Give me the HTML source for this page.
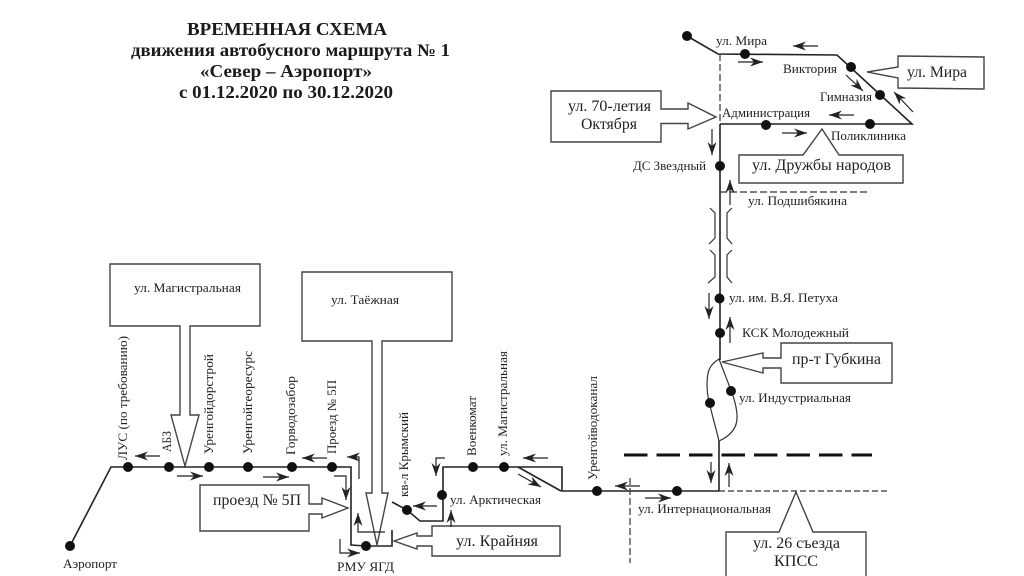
<!DOCTYPE html>
<html lang="ru">
<head>
<meta charset="utf-8">
<title>Временная схема движения автобусного маршрута № 1</title>
<style>
html,body{margin:0;padding:0;background:#fff;width:1024px;height:576px;overflow:hidden}
svg{display:block;filter:blur(.35px)}
text{font-family:"Liberation Serif","Noto Serif CJK SC",serif;fill:#222;font-size:12.500px}
.t{font-weight:bold;font-size:17.500px;fill:#1a1a1a}
.b{font-size:16px}
.l{fill:none;stroke:#222;stroke-width:1.6}
.s{fill:none;stroke:#333;stroke-width:1.2}
.a{fill:none;stroke:#222;stroke-width:1.2;marker-end:url(#h)}
.f{fill:#fff;stroke:#444;stroke-width:1.4}
</style>
</head>
<body>
<svg width="1024" height="576" viewBox="0 0 1024 576" xmlns="http://www.w3.org/2000/svg">
<defs>
<marker id="h" markerUnits="userSpaceOnUse" markerWidth="14" markerHeight="10" refX="13" refY="5" orient="auto">
<path d="M0,0.5 L13,5 L0,9.500 L4,5 z" fill="#222"/>
</marker>
</defs>

<!-- Title -->
<text class="t" x="187" y="35" textLength="200" lengthAdjust="spacingAndGlyphs">ВРЕМЕННАЯ СХЕМА</text>
<text class="t" x="131" y="56" textLength="319" lengthAdjust="spacingAndGlyphs">движения автобусного маршрута № 1</text>
<text class="t" x="200" y="77" textLength="172" lengthAdjust="spacingAndGlyphs">«Север – Аэропорт»</text>
<text class="t" x="179" y="98" textLength="214" lengthAdjust="spacingAndGlyphs">с 01.12.2020 по 30.12.2020</text>

<!-- Upper route -->
<polyline class="l" points="687,36 718,54 837,55 912,124 720,124"/>
<line class="s" x1="720" y1="54" x2="720" y2="124" stroke-dasharray="7 3"/>
<line class="l" x1="720" y1="124" x2="720" y2="360"/>
<line class="s" x1="720" y1="192" x2="868" y2="192" stroke-dasharray="7 3"/>

<!-- Road break marks -->
<polyline class="s" points="710,208 715,213 715,238 709,244"/>
<polyline class="s" points="710,250 715,255 715,277 708,283"/>
<polyline class="s" points="732,208 727,213 727,238 732,244"/>
<polyline class="s" points="732,250 727,255 727,277 732,283"/>

<!-- Loop -->
<path class="s" d="M719,359 C709,365 707,372 707,385 C707,398 710,405 719,441 C730,436 738,428 737,415 C736,400 731,391 719,359 Z"/>
<line class="l" x1="719" y1="441" x2="719" y2="491"/>

<!-- Thick dashed line -->
<line x1="624" y1="455" x2="872" y2="455" stroke="#111" stroke-width="3" stroke-dasharray="23.5 9"/>

<!-- Lower right -->
<polyline class="l" points="719,491 562,491 562,467 443,467 443,521 420,521 407,510 392,502"/>
<line class="s" x1="719" y1="491" x2="890" y2="491" stroke-dasharray="6 3"/>
<line class="s" x1="630" y1="478" x2="630" y2="563" stroke-dasharray="7 3"/>
<line class="l" x1="518" y1="467" x2="561" y2="491"/>

<!-- Left route -->
<polyline class="l" points="70,546 111,467 351,467 351,545 366,546 392,546 392,530"/>

<!-- Boxes and block arrows -->
<path class="f" d="M110,264 H260 V326 H190 V415 H199 L185,466 L171,415 H180 V326 H110 Z"/>
<path class="f" d="M302,272 H452 V341 H382 V493 H388 L377,545 L366,493 H372 V341 H302 Z"/>
<path class="f" d="M200,485 H309 V504 H322 V498 L348,508 L322,518 V514 H309 V531 H200 Z"/>
<path class="f" d="M432,526 H560 V556 H432 V546 H417 V549 L394,541 L417,533 V536 H432 Z"/>
<path class="f" d="M551,91 H661 V109 H688 V103 L716,117 L688,129 V123.500 H661 V142 H551 Z"/>
<path class="f" d="M898,56 L984,57 V89 L898,88 V78 L867,72 L898,67 Z"/>
<path class="f" d="M739,155 H803 L822,129 L839,155 H903 V183 H739 Z"/>
<path class="f" d="M781,343 H892 V383 H781 V368 H763 V373 L722,362 L763,353 V358 H781 Z" stroke-width="1.8"/>
<path class="f" d="M726,578 V532 H779 L796,492 L813,532 H866 V578"/>

<!-- Stops -->
<g fill="#111">
<circle cx="687" cy="36" r="5"/>
<circle cx="745" cy="54" r="5"/>
<circle cx="851" cy="67" r="5"/>
<circle cx="880" cy="95" r="5"/>
<circle cx="766" cy="125" r="5"/>
<circle cx="870" cy="124" r="5"/>
<circle cx="720" cy="166" r="5"/>
<circle cx="719.500" cy="298.500" r="5"/>
<circle cx="720" cy="333" r="5"/>
<circle cx="731" cy="391" r="5"/>
<circle cx="710" cy="403" r="5"/>
<circle cx="677" cy="491" r="5"/>
<circle cx="597" cy="491" r="5"/>
<circle cx="504" cy="467" r="5"/>
<circle cx="473" cy="467" r="5"/>
<circle cx="442" cy="495" r="5"/>
<circle cx="407" cy="510" r="5"/>
<circle cx="366" cy="546" r="5"/>
<circle cx="332" cy="467" r="5"/>
<circle cx="292" cy="467" r="5"/>
<circle cx="248" cy="467" r="5"/>
<circle cx="209" cy="467" r="5"/>
<circle cx="169" cy="467" r="5"/>
<circle cx="128" cy="467" r="5"/>
<circle cx="70" cy="546" r="5"/>
</g>

<!-- Direction arrows -->
<line class="a" x1="818" y1="46" x2="793" y2="46"/>
<line class="a" x1="738" y1="62" x2="763" y2="62"/>
<line class="a" x1="846" y1="75" x2="863" y2="91"/>
<line class="a" x1="913" y1="112" x2="894" y2="92"/>
<line class="a" x1="854" y1="115" x2="829" y2="115"/>
<line class="a" x1="782" y1="133" x2="807" y2="133"/>
<line class="a" x1="712" y1="129" x2="712" y2="155"/>
<line class="a" x1="730" y1="205" x2="730" y2="180"/>
<line class="a" x1="709" y1="293" x2="709" y2="319"/>
<line class="a" x1="730" y1="343" x2="730" y2="317"/>
<line class="a" x1="711" y1="462" x2="711" y2="483"/>
<line class="a" x1="729" y1="487" x2="729" y2="463"/>
<line class="a" x1="640" y1="486" x2="615" y2="486"/>
<line class="a" x1="645" y1="498" x2="671" y2="498"/>
<line class="a" x1="548" y1="458" x2="523" y2="458"/>
<line class="a" x1="518" y1="474" x2="541" y2="487"/>
<line class="a" x1="437" y1="506" x2="413" y2="506"/>
<line class="a" x1="451" y1="527" x2="451" y2="510"/>
<line class="a" x1="327" y1="458" x2="302" y2="458"/>
<line class="a" x1="160" y1="456" x2="135" y2="456"/>
<line class="a" x1="177" y1="476" x2="203" y2="476"/>
<line class="a" x1="263" y1="477" x2="289" y2="477"/>
<polyline class="a" points="445,458 436,458 436,476"/>
<polyline class="a" points="334,476 346,476 346,500"/>
<polyline class="a" points="359,479 359,457 347,457"/>
<polyline class="a" points="385,532 358,532 358,513"/>
<polyline class="a" points="340,539 340,553 360,553"/>

<!-- Horizontal labels -->
<text x="716" y="45" textLength="51" lengthAdjust="spacingAndGlyphs">ул. Мира</text>
<text x="783" y="73" textLength="54" lengthAdjust="spacingAndGlyphs">Виктория</text>
<text x="820" y="101" textLength="52" lengthAdjust="spacingAndGlyphs">Гимназия</text>
<text x="722" y="117" textLength="88" lengthAdjust="spacingAndGlyphs">Администрация</text>
<text x="831" y="140" textLength="75" lengthAdjust="spacingAndGlyphs">Поликлиника</text>
<text x="633" y="170" textLength="73" lengthAdjust="spacingAndGlyphs">ДС Звездный</text>
<text x="748" y="205" textLength="99" lengthAdjust="spacingAndGlyphs">ул. Подшибякина</text>
<text class="b" x="907" y="77" textLength="60" lengthAdjust="spacingAndGlyphs">ул. Мира</text>
<text class="b" x="568" y="111" textLength="83" lengthAdjust="spacingAndGlyphs">ул. 70-летия</text>
<text class="b" x="581" y="129" textLength="56" lengthAdjust="spacingAndGlyphs">Октября</text>
<text class="b" x="752" y="170" textLength="139" lengthAdjust="spacingAndGlyphs">ул. Дружбы народов</text>
<text x="729" y="302" textLength="109" lengthAdjust="spacingAndGlyphs">ул. им. В.Я. Петуха</text>
<text x="742" y="337" textLength="107" lengthAdjust="spacingAndGlyphs">КСК Молодежный</text>
<text class="b" x="792" y="364" textLength="89" lengthAdjust="spacingAndGlyphs">пр-т Губкина</text>
<text x="739" y="402" textLength="112" lengthAdjust="spacingAndGlyphs">ул. Индустриальная</text>
<text x="638" y="513" textLength="133" lengthAdjust="spacingAndGlyphs">ул. Интернациональная</text>
<text class="b" x="753" y="548" textLength="87" lengthAdjust="spacingAndGlyphs">ул. 26 съезда</text>
<text class="b" x="774" y="566" textLength="44" lengthAdjust="spacingAndGlyphs">КПСС</text>
<text x="63" y="568" textLength="54" lengthAdjust="spacingAndGlyphs">Аэропорт</text>
<text x="134" y="292" textLength="107" lengthAdjust="spacingAndGlyphs">ул. Магистральная</text>
<text x="331" y="304" textLength="68" lengthAdjust="spacingAndGlyphs">ул. Таёжная</text>
<text class="b" x="213" y="505" textLength="88" lengthAdjust="spacingAndGlyphs">проезд № 5П</text>
<text x="337" y="571" textLength="57" lengthAdjust="spacingAndGlyphs">РМУ ЯГД</text>
<text x="450" y="504" textLength="91" lengthAdjust="spacingAndGlyphs">ул. Арктическая</text>
<text class="b" x="456" y="546" textLength="82" lengthAdjust="spacingAndGlyphs">ул. Крайняя</text>

<!-- Vertical labels -->
<text transform="translate(127,460) rotate(-90)" textLength="124" lengthAdjust="spacingAndGlyphs">ЛУС (по требованию)</text>
<text transform="translate(171,452) rotate(-90)" textLength="21" lengthAdjust="spacingAndGlyphs">АБЗ</text>
<text transform="translate(213,454) rotate(-90)" textLength="100" lengthAdjust="spacingAndGlyphs">Уренгойдорстрой</text>
<text transform="translate(252,454) rotate(-90)" textLength="103" lengthAdjust="spacingAndGlyphs">Уренгойгеоресурс</text>
<text transform="translate(295,455) rotate(-90)" textLength="79" lengthAdjust="spacingAndGlyphs">Горводозабор</text>
<text transform="translate(336,454) rotate(-90)" textLength="74" lengthAdjust="spacingAndGlyphs">Проезд № 5П</text>
<text transform="translate(408,497) rotate(-90)" textLength="85" lengthAdjust="spacingAndGlyphs">кв-л Крымский</text>
<text transform="translate(476,456) rotate(-90)" textLength="60" lengthAdjust="spacingAndGlyphs">Военкомат</text>
<text transform="translate(507,456) rotate(-90)" textLength="105" lengthAdjust="spacingAndGlyphs">ул. Магистральная</text>
<text transform="translate(597,480) rotate(-90)" textLength="104" lengthAdjust="spacingAndGlyphs">Уренгойводоканал</text>
</svg>
</body>
</html>
